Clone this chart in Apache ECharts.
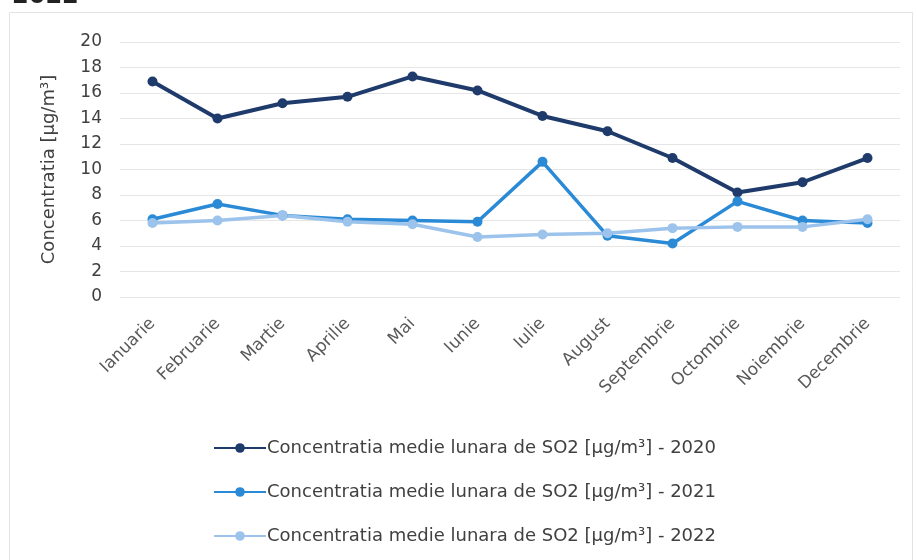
<!DOCTYPE html>
<html>
<head>
<meta charset="utf-8">
<script src="https://cdn.jsdelivr.net/npm/echarts@6/dist/echarts.min.js"></script>
<style>
  html, body { margin: 0; padding: 0; background: #fff; }
  #chart { width: 917px; height: 560px; }
</style>
</head>
<body>
<div id="chart"></div>
<script>
// Monthly average SO2 concentration, µg/m³
const months = ['Ianuarie', 'Februarie', 'Martie', 'Aprilie', 'Mai', 'Iunie',
  'Iulie', 'August', 'Septembrie', 'Octombrie', 'Noiembrie', 'Decembrie'];
const so2_2020 = [16.9, 14.0, 15.2, 15.7, 17.3, 16.2, 14.2, 13.0, 10.9, 8.2, 9.0, 10.9];
const so2_2021 = [6.1, 7.3, 6.4, 6.1, 6.0, 5.9, 10.6, 4.8, 4.2, 7.5, 6.0, 5.8];
const so2_2022 = [5.8, 6.0, 6.4, 5.9, 5.7, 4.7, 4.9, 5.0, 5.4, 5.5, 5.5, 6.1];
const seriesNames = [
  'Concentratia medie lunara de SO2 [µg/m³] - 2020',
  'Concentratia medie lunara de SO2 [µg/m³] - 2021',
  'Concentratia medie lunara de SO2 [µg/m³] - 2022'
];
const yTicks = { min: 0, max: 20, interval: 2 };

const colors = ['#1f3b6b', '#2a8ad6', '#9cc3eb'];
const font = 'DejaVu Sans, Liberation Sans, sans-serif';

function lineSeries(name, data, color, width) {
  return {
    name, type: 'line', data,
    symbol: 'circle', symbolSize: 10,
    lineStyle: { color, width },
    itemStyle: { color },
    z: 3
  };
}

const chart = echarts.init(document.getElementById('chart'));
chart.setOption({
  animation: false,
  color: colors,
  graphic: [
    { type: 'rect', shape: { x: 9.5, y: 12.5, width: 903, height: 560 },
      style: { fill: 'none', stroke: '#e3e3e3', lineWidth: 1 }, silent: true },
    { type: 'text', left: 12, top: -15,
      style: { text: '2022', font: 'bold 24px ' + font, fill: '#222' } }
  ],
  grid: { left: 120, right: 17, top: 42, bottom: 263 },
  xAxis: {
    type: 'category', data: months, boundaryGap: true,
    axisLine: { show: false }, axisTick: { show: false },
    axisLabel: { rotate: 45, color: '#595959', fontSize: 17, fontFamily: font, margin: 24, interval: 0 }
  },
  yAxis: {
    type: 'value', min: yTicks.min, max: yTicks.max, interval: yTicks.interval,
    name: 'Concentratia [µg/m³]', nameLocation: 'middle', nameGap: 62,
    nameTextStyle: { color: '#404040', fontSize: 18, fontFamily: font },
    axisLine: { show: false }, axisTick: { show: false },
    axisLabel: { color: '#404040', fontSize: 17, fontFamily: font, margin: 18 },
    splitLine: { lineStyle: { color: '#e6e6e6', width: 1 } }
  },
  legend: {
    orient: 'vertical', left: 208, top: 434,
    itemWidth: 52, itemHeight: 12, itemGap: 26,
    textStyle: { color: '#404040', fontSize: 18, fontFamily: font, padding: [0, 0, 0, -4] },
    data: seriesNames
  },
  series: [
    lineSeries(seriesNames[0], so2_2020, colors[0], 4),
    lineSeries(seriesNames[1], so2_2021, colors[1], 3.5),
    lineSeries(seriesNames[2], so2_2022, colors[2], 3.5)
  ]
});
</script>
</body>
</html>
